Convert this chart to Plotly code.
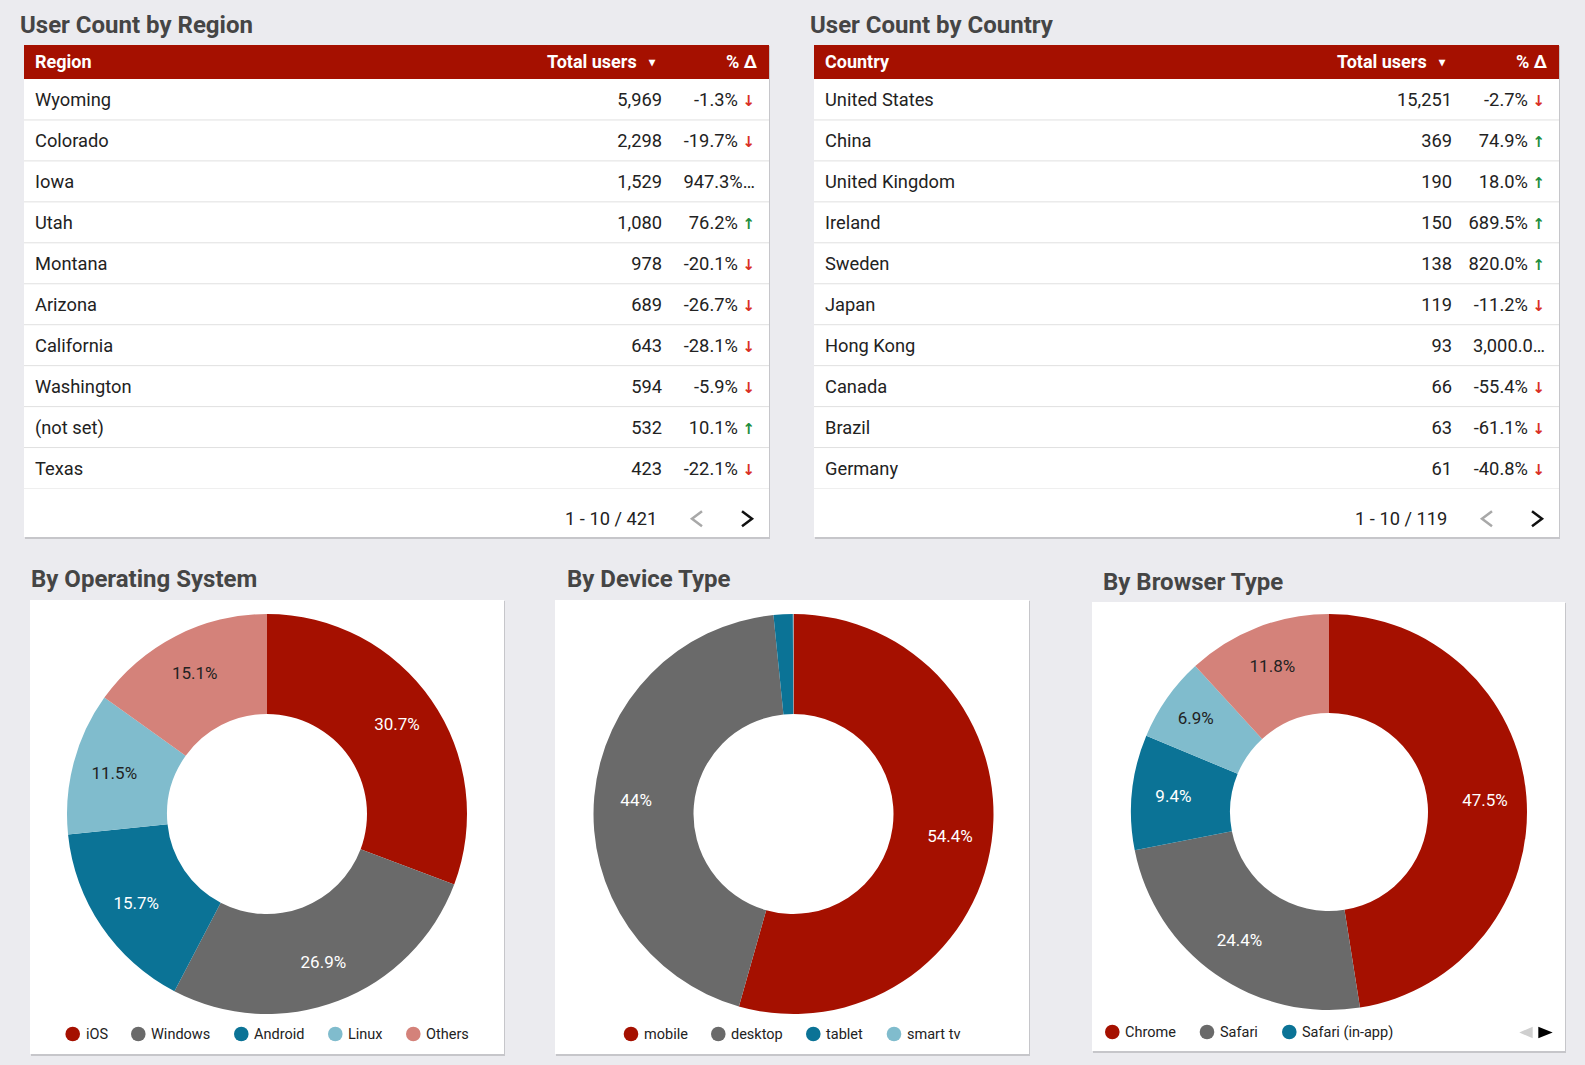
import plotly.graph_objects as go

W, H = 1585, 1065

# ---- data ----
regions = ["Wyoming", "Colorado", "Iowa", "Utah", "Montana", "Arizona",
           "California", "Washington", "(not set)", "Texas"]
region_users = [5969, 2298, 1529, 1080, 978, 689, 643, 594, 532, 423]
region_change = [-1.3, -19.7, 947.3, 76.2, -20.1, -26.7, -28.1, -5.9, 10.1, -22.1]
region_total = 421

countries = ["United States", "China", "United Kingdom", "Ireland", "Sweden",
             "Japan", "Hong Kong", "Canada", "Brazil", "Germany"]
country_users = [15251, 369, 190, 150, 138, 119, 93, 66, 63, 61]
country_change = [-2.7, 74.9, 18.0, 689.5, 820.0, -11.2, 3000.0, -55.4, -61.1, -40.8]
country_total = 119

os_labels = ["iOS", "Windows", "Android", "Linux", "Others"]
os_share = [30.7, 26.9, 15.7, 11.5, 15.1]

device_labels = ["mobile", "desktop", "tablet", "smart tv"]
device_share = [54.4, 44.0, 1.55, 0.05]

browser_labels = ["Chrome", "Safari", "Safari (in-app)", "Edge", "Others"]
browser_share = [47.5, 24.4, 9.4, 6.9, 11.8]
browser_legend_shown = 3

# ---- style ----
FONT = "Roboto"
BG = "#ebebef"
RED = "#a51000"
PALETTE = [RED, "#6a6a6a", "#0b7396", "#80bccd", "#d4827a"]
TEXT_ON = ["white", "white", "white", "#222222", "#222222"]
UP, DOWN = "#1e8e3e", "#d93025"

fig = go.Figure()
shapes = []
annotations = []


def fx(x):
    return x / W


def fy(y):
    return 1 - y / H


def panel(x0, y0, x1, y1):
    shapes.append(dict(type="rect", xref="paper", yref="paper",
                       x0=fx(x0 + 1), x1=fx(x1 + 1), y0=fy(y1 + 2), y1=fy(y0 + 1),
                       fillcolor="#c6c6ca", line_width=0, layer="below"))
    shapes.append(dict(type="rect", xref="paper", yref="paper",
                       x0=fx(x0), x1=fx(x1), y0=fy(y1), y1=fy(y0),
                       fillcolor="white", line_width=0, layer="below"))


def title(x, y, text):
    annotations.append(dict(x=fx(x), y=fy(y), xref="paper", yref="paper",
                            text=f"<b>{text}</b>", showarrow=False,
                            xanchor="left", yanchor="middle",
                            font=dict(family=FONT, size=24, color="#454545")))


def fmt_change(v):
    s = f"{v:,.1f}%"
    if abs(v) >= 900:
        return s[:7] + "…"
    arrow, col = ("↑", UP) if v > 0 else ("↓", DOWN)
    return (f"{s} <span style='color:{col};font-size:15px;"
            f"font-family:DejaVu Sans'><b>{arrow}</b></span>")


# ---- tables ----
TABLE_W = 745
TOP, HEAD_H, ROW_H, FOOT_H = 45, 34, 40.95, 48.5
TEXT_SHIFT = 0.05  # rows; nudges cell text down against the row lines


def add_table(idx, x0, title_text, head_text, names, users, change, total):
    suffix = "" if idx == 1 else str(idx)
    xname, yname = "x" + suffix, "y" + suffix
    n = len(names)
    rows_top = TOP + HEAD_H
    rows_bot = rows_top + n * ROW_H
    bottom = rows_bot + FOOT_H

    title(x0 - 6, 25, title_text)
    panel(x0, TOP, x0 + TABLE_W, bottom)
    shapes.append(dict(type="rect", xref="paper", yref="paper",
                       x0=fx(x0), x1=fx(x0 + TABLE_W), y0=fy(rows_top), y1=fy(TOP),
                       fillcolor=RED, line_width=0, layer="below"))

    fig.update_layout({
        "xaxis" + suffix: dict(domain=[fx(x0), fx(x0 + TABLE_W)], range=[0, TABLE_W],
                               visible=False, fixedrange=True, anchor=yname),
        "yaxis" + suffix: dict(domain=[fy(rows_bot), fy(rows_top)],
                               range=[n - 0.5 - TEXT_SHIFT, -0.5 - TEXT_SHIFT],
                               visible=False, fixedrange=True, anchor=xname),
    })

    for i in range(n):
        yl = i + 0.5 - TEXT_SHIFT
        shapes.append(dict(type="line", xref=xname, yref=yname, x0=0, x1=TABLE_W,
                           y0=yl, y1=yl, line=dict(color="#e0e0e0", width=1)))

    rows = list(range(n))
    cell_font = dict(family=FONT, size=18.3, color="#222222")
    common = dict(mode="text", xaxis=xname, yaxis=yname, hoverinfo="skip",
                  showlegend=False, cliponaxis=False, textfont=cell_font)
    fig.add_trace(go.Scatter(x=[11] * n, y=rows, text=names,
                             textposition="middle right", **common))
    fig.add_trace(go.Scatter(x=[638] * n, y=rows, text=[f"{u:,}" for u in users],
                             textposition="middle left", **common))
    fig.add_trace(go.Scatter(x=[731] * n, y=rows, text=[fmt_change(c) for c in change],
                             textposition="middle left", **common))

    head_font = dict(family=FONT, size=18, color="white")
    hy = fy(TOP + HEAD_H / 2)
    for x, txt, anchor, size in [(9, head_text, "left", 18), (615, "Total users", "right", 18),
                                 (628, "▾", "center", 12), (736, "% Δ", "right", 18)]:
        annotations.append(dict(x=x, y=hy, xref=xname, yref="paper", text=f"<b>{txt}</b>",
                                showarrow=False, xanchor=anchor, yanchor="middle",
                                font=dict(head_font, size=size)))

    py = fy(rows_bot + FOOT_H / 2 + 6)
    annotations.append(dict(x=635, y=py, xref=xname, yref="paper",
                            text=f"1 - {n} / {total}", showarrow=False,
                            xanchor="right", yanchor="middle", font=cell_font))
    ym, dy = rows_bot + FOOT_H / 2 + 6, 7.5
    shapes.append(dict(type="path", xref=xname, yref="paper",
                       path=f"M 678 {fy(ym - dy)} L 668 {fy(ym)} L 678 {fy(ym + dy)}",
                       line=dict(color="#a8a8a8", width=2.5)))
    shapes.append(dict(type="path", xref=xname, yref="paper",
                       path=f"M 718 {fy(ym - dy)} L 728 {fy(ym)} L 718 {fy(ym + dy)}",
                       line=dict(color="#111111", width=2.5)))


add_table(1, 24, "User Count by Region", "Region",
          regions, region_users, region_change, region_total)
add_table(2, 814, "User Count by Country", "Country",
          countries, country_users, country_change, country_total)


# ---- donuts ----
def pct_text(v):
    return "" if v < 5 else f"{v:g}%"


def add_donut(labels, values, cx, cy, r):
    k = len(values)
    dom = dict(x=[fx(cx - r), fx(cx + r)], y=[fy(cy + r), fy(cy - r)])
    fig.add_trace(go.Pie(
        labels=labels, values=values, sort=False, direction="clockwise", rotation=0,
        hole=0.5, marker=dict(colors=PALETTE[:k], line=dict(width=0)),
        textinfo="none", domain=dom, showlegend=False, hoverinfo="label+percent"))
    # transparent twin with a wider hole: carries the labels further out in the ring
    fig.add_trace(go.Pie(
        labels=labels, values=values, sort=False, direction="clockwise", rotation=0,
        hole=0.58, marker=dict(colors=["rgba(0,0,0,0)"] * k, line=dict(width=0)),
        text=[pct_text(v) for v in values], textinfo="text",
        textposition="inside", insidetextorientation="horizontal",
        textfont=dict(family=FONT, size=17, color=TEXT_ON[:k]),
        domain=dom, showlegend=False, hoverinfo="skip"))


def add_legend(labels, xs, y):
    for i, (lab, x) in enumerate(zip(labels, xs)):
        shapes.append(dict(type="circle", xref="paper", yref="paper",
                           xsizemode="pixel", ysizemode="pixel",
                           xanchor=fx(x), yanchor=fy(y),
                           x0=-7.3, x1=7.3, y0=-7.3, y1=7.3,
                           fillcolor=PALETTE[i], line_width=0))
        annotations.append(dict(x=fx(x + 11), y=fy(y), xref="paper", yref="paper",
                                text=lab, showarrow=False, xanchor="left", yanchor="middle",
                                font=dict(family=FONT, size=14.5, color="#222222")))


# operating system
title(29, 579, "By Operating System")
panel(30, 600, 504, 1054)
add_donut(os_labels, os_share, 267, 814, 200)
add_legend(os_labels, [72.7, 138.3, 241.3, 335.3, 413.3], 1034)

# device type
title(565, 579, "By Device Type")
panel(555, 600, 1029, 1054)
add_donut(device_labels, device_share, 793.5, 814, 200)
add_legend(device_labels, [631, 718.3, 813.3, 894], 1034)

# browser type
title(1101, 582, "By Browser Type")
panel(1092, 602, 1565, 1051)
add_donut(browser_labels, browser_share, 1329, 812, 198)
add_legend(browser_labels[:browser_legend_shown], [1112.3, 1207, 1289.3], 1032)
shapes.append(dict(type="path", xref="paper", yref="paper",
                   path=f"M {fx(1532.7)} {fy(1026.7)} L {fx(1519.3)} {fy(1032.5)} "
                        f"L {fx(1532.7)} {fy(1038.3)} Z",
                   fillcolor="#cfcfcf", line_width=0))
shapes.append(dict(type="path", xref="paper", yref="paper",
                   path=f"M {fx(1538.3)} {fy(1026.7)} L {fx(1552.7)} {fy(1032.5)} "
                        f"L {fx(1538.3)} {fy(1038.3)} Z",
                   fillcolor="#000000", line_width=0))

fig.update_layout(
    width=W, height=H,
    margin=dict(l=0, r=0, t=0, b=0),
    paper_bgcolor=BG, plot_bgcolor="rgba(0,0,0,0)",
    font=dict(family=FONT),
    shapes=shapes, annotations=annotations,
    showlegend=False,
)

fig.write_html("out.html", config={"displayModeBar": False},
               post_script="document.body.style.margin='0';"
                           "document.body.style.overflow='hidden';")
